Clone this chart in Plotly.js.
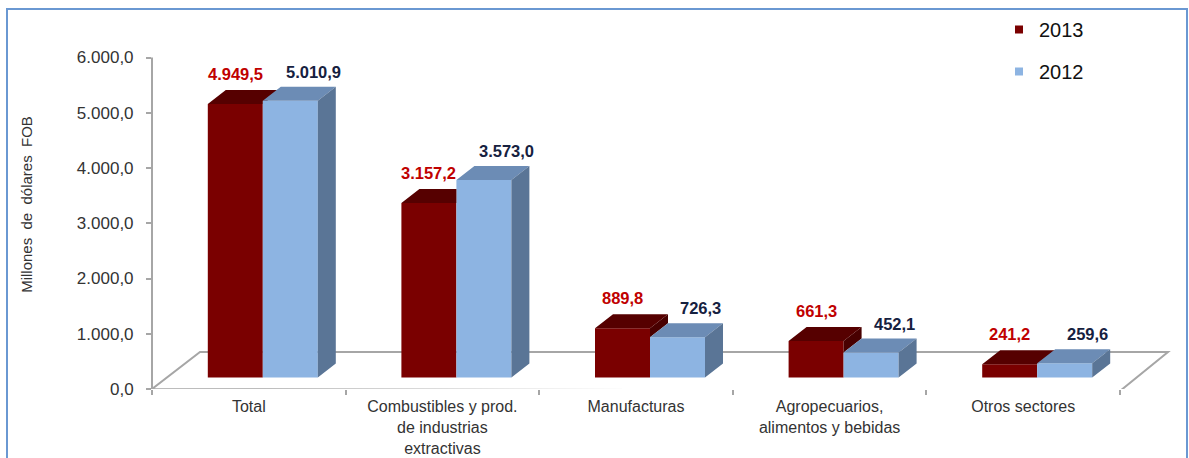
<!DOCTYPE html>
<html>
<head>
<meta charset="utf-8">
<script src="https://cdn.plot.ly/plotly-3.0.1.min.js"></script>
<style>html,body{margin:0;padding:0;background:#fff;}#chart{width:1189px;height:458px;}</style>
</head>
<body>
<div id="chart"></div>
<script>
// ---------- data ----------
const categories = ['Total', 'Combustibles y prod.<br>de industrias<br>extractivas', 'Manufacturas', 'Agropecuarios,<br>alimentos y bebidas', 'Otros sectores'];
const values2013 = [4949.5, 3157.2, 889.8, 661.3, 241.2];
const values2012 = [5010.9, 3573.0, 726.3, 452.1, 259.6];
const seriesNames = ['2013', '2012'];
const yTicks = [0, 1000, 2000, 3000, 4000, 5000, 6000];
const yTitle = 'Millones\u00a0 de\u00a0 dólares\u00a0 FOB';

// ---------- layout geometry (pixels) ----------
const W = 1189, H = 458;
const L = 152, R = 1179, T = 20, B = 389;
const PW = R - L, PH = B - T;
const PX = 331.5 / 6000;          // px per unit on value axis
const CW = 968 / 5;               // px per category
const LIFT = 11.5, SHIFT = 14;    // bars sit inside the floor depth
const DEPTH_X = 18, DEPTH_Y = 14; // bar depth projection
const FLOOR_DX = 48, FLOOR_DY = 37;
const BAR_PX = 55;

const xRange = [-0.5, -0.5 + PW / CW];
const yRange = [0, PH / PX];
const x2Range = [xRange[0] - SHIFT / CW, xRange[1] - SHIFT / CW];
const y2Range = [-LIFT / PX, PH / PX - LIFT / PX];
const BW = BAR_PX / CW, DX = DEPTH_X / CW, DY = DEPTH_Y / PX;

const C = {
  redFront: '#7A0000', redTop: '#560000', redSide: '#480000',
  blueFront: '#8DB4E2', blueTop: '#6C8CB5', blueSide: '#5A7596',
  redLabel: '#C00000', navyLabel: '#16213F', grid: '#A6A6A6', text: '#333333', border: '#6A98D2'
};
const FONT = 'Liberation Sans, Arial, sans-serif';

function fmt(v) {
  const s = v.toFixed(1).split('.');
  return s[0].replace(/\B(?=(\d{3})+(?!\d))/g, '.') + ',' + s[1];
}
const idx = categories.map((_, i) => i);

// ---------- 3D faces computed from the data ----------
function polys(fn) {
  const xs = [], ys = [];
  idx.forEach(i => {
    const p = fn(i);
    if (!p) return;
    p.forEach(q => { xs.push(q[0]); ys.push(q[1]); });
    xs.push(null); ys.push(null);
  });
  return {xs, ys};
}
const top13 = polys(i => {
  const v13 = values2013[i], v12 = values2012[i];
  const xa = i - BW, xm = i;
  const t = Math.max(0, Math.min(1, (v12 - v13) / DY));
  const qy = Math.min(Math.max(v12, v13), v13 + DY);
  return [[xa, v13], [xm, v13], [xm, qy], [xm + t * DX, qy], [xm + DX, v13 + DY], [xa + DX, v13 + DY]];
});
const side13 = polys(i => {
  const v13 = values2013[i], v12 = values2012[i];
  if (v13 <= v12) return null;
  const xm = i;
  return [[xm, v12], [xm, v13], [xm + DX, v13 + DY], [xm + DX, v12 + DY]];
});
const top12 = polys(i => {
  const v = values2012[i], xm = i, xb = i + BW;
  return [[xm, v], [xb, v], [xb + DX, v + DY], [xm + DX, v + DY]];
});
const side12 = polys(i => {
  const v = values2012[i], xb = i + BW;
  return [[xb, 0], [xb, v], [xb + DX, v + DY], [xb + DX, DY]];
});
function face(p, color) {
  return {type: 'scatter', x: p.xs, y: p.ys, xaxis: 'x2', yaxis: 'y2', mode: 'lines',
    fill: 'toself', fillcolor: color, line: {width: 0, color: color}, hoverinfo: 'skip', showlegend: false};
}

const traces = [
  {type: 'scatter', x: [null], y: [null], xaxis: 'x2', yaxis: 'y2', mode: 'markers', name: seriesNames[0],
    legendgroup: 'a', marker: {symbol: 'square', size: 8, color: C.redFront}, hoverinfo: 'skip'},
  {type: 'scatter', x: [null], y: [null], xaxis: 'x2', yaxis: 'y2', mode: 'markers', name: seriesNames[1],
    legendgroup: 'b', marker: {symbol: 'square', size: 8, color: C.blueFront}, hoverinfo: 'skip'},
  {type: 'bar', x: idx, y: values2013, xaxis: 'x2', yaxis: 'y2', name: seriesNames[0], showlegend: false,
    marker: {color: C.redFront, line: {width: 0}}, hoverinfo: 'skip'},
  {type: 'bar', x: idx, y: values2012, xaxis: 'x2', yaxis: 'y2', name: seriesNames[1], showlegend: false,
    marker: {color: C.blueFront, line: {width: 0}}, hoverinfo: 'skip'},
  face(side13, C.redSide),
  face(top13, C.redTop),
  face(top12, C.blueTop),
  face(side12, C.blueSide),
  // invisible trace so the category axis x/y subplot exists
  {type: 'scatter', x: [categories[0]], y: [null], xaxis: 'x', yaxis: 'y', mode: 'markers', showlegend: false, hoverinfo: 'skip'}
];

// ---------- value labels ----------
const annotations = [];
idx.forEach(i => {
  annotations.push({xref: 'x2', yref: 'y2', x: i - BW / 2, y: values2013[i], text: fmt(values2013[i]),
    showarrow: false, yshift: 30, yanchor: 'middle', xanchor: 'center',
    font: {family: FONT, size: 16.5, color: C.redLabel, weight: 'bold'}});
  annotations.push({xref: 'x2', yref: 'y2', x: i + BW / 2, y: values2012[i], text: fmt(values2012[i]),
    showarrow: false, yshift: 29, xshift: 23, yanchor: 'middle', xanchor: 'center',
    font: {family: FONT, size: 16.5, color: C.navyLabel, weight: 'bold'}});
});

// ---------- decoration shapes ----------
const px2paper = px => (px - L) / PW;
const py2y = py => (B - py) / PX;
const py2paper = py => (B - py) / PH;
const floorPath = 'M ' + px2paper(152) + ',' + py2y(389) +
  ' L ' + px2paper(1120) + ',' + py2y(391) +
  ' L ' + px2paper(1120 + FLOOR_DX) + ',' + py2y(389 - FLOOR_DY) +
  ' L ' + px2paper(152 + FLOOR_DX) + ',' + py2y(389 - FLOOR_DY) + ' Z';
const shapes = [
  {type: 'path', xref: 'paper', yref: 'y', path: floorPath, fillcolor: '#FFFFFF',
    line: {color: C.grid, width: 2}, layer: 'below'},
  {type: 'line', xref: 'paper', yref: 'y', x0: 0, x1: 0, y0: 0, y1: yTicks[yTicks.length - 1],
    line: {color: C.grid, width: 2}, layer: 'below'},
  {type: 'rect', xref: 'paper', yref: 'paper', x0: px2paper(7), x1: px2paper(1187),
    y0: py2paper(480), y1: py2paper(9), line: {color: C.border, width: 2}, fillcolor: 'rgba(0,0,0,0)'}
];

const layout = {
  width: W, height: H,
  margin: {l: L, r: W - R, t: T, b: H - B, pad: 0},
  paper_bgcolor: '#FFFFFF', plot_bgcolor: 'rgba(0,0,0,0)',
  font: {family: FONT, color: C.text},
  barmode: 'group', bargap: 1 - 2 * BW, bargroupgap: 0,
  showlegend: true,
  legend: {x: px2paper(999), xanchor: 'left', y: py2paper(10), yanchor: 'top',
    font: {family: FONT, size: 20, color: '#111111'}, bgcolor: 'rgba(0,0,0,0)',
    tracegroupgap: 13, traceorder: 'grouped'},
  xaxis: {type: 'category', categoryarray: categories, categoryorder: 'array', range: xRange,
    tickson: 'boundaries', ticks: 'outside', ticklen: 5, tickwidth: 2, tickcolor: C.grid,
    ticklabelstandoff: 6,
    showline: false, showgrid: false, zeroline: false, fixedrange: true,
    tickfont: {family: FONT, size: 16, color: C.text}},
  yaxis: {range: yRange, tickvals: yTicks, ticktext: yTicks.map(fmt), ticks: 'outside', ticklen: 5,
    tickwidth: 2, tickcolor: C.grid, showline: false, showgrid: false, zeroline: false, fixedrange: true,
    ticklabelstandoff: 9,
    tickfont: {family: FONT, size: 17, color: C.text},
    title: {text: yTitle, font: {family: FONT, size: 15, color: C.text}, standoff: 40}},
  xaxis2: {overlaying: 'x', range: x2Range, visible: false, fixedrange: true},
  yaxis2: {overlaying: 'y', range: y2Range, visible: false, fixedrange: true},
  shapes: shapes,
  annotations: annotations
};

Plotly.newPlot('chart', traces, layout, {staticPlot: true, displayModeBar: false});
</script>
</body>
</html>
